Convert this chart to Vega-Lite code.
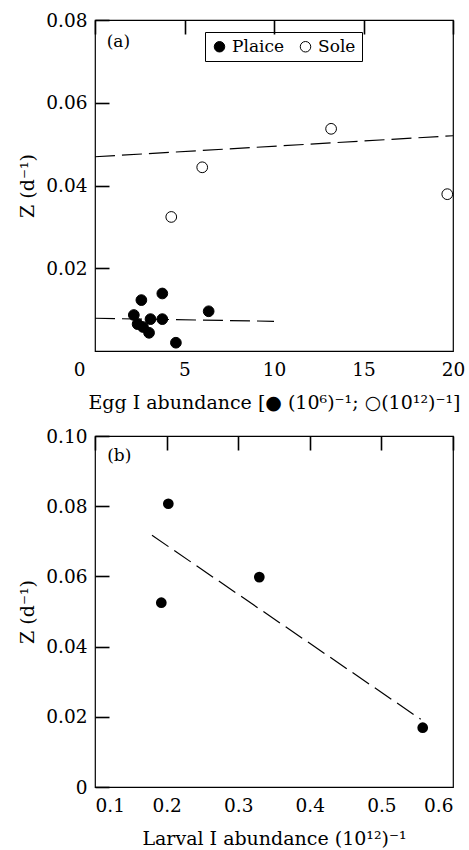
{
  "$schema": "https://vega.github.io/schema/vega-lite/v6.json",
  "padding": {"left": 18, "top": 10, "right": 5, "bottom": 2},
  "spacing": 12,
  "config": {
    "font": "DejaVu Serif",
    "view": {"stroke": "black", "strokeWidth": 1.2},
    "axis": {
      "domain": false, "ticks": false,
      "grid": true, "gridColor": "black", "gridOpacity": 1, "gridWidth": 1.6, "gridDash": [14, 1000],
      "labelFont": "DejaVu Serif", "labelFontSize": 18.5, "labelColor": "black",
      "titleFont": "DejaVu Serif", "titleFontSize": 19, "titleFontWeight": "normal", "titleColor": "black"
    },
    "axisX": {"labelPadding": 9, "titlePadding": 15},
    "axisY": {"labelPadding": 8, "titlePadding": 8}
  },
  "datasets": {
    "eggPoints": [
      {"species": "Plaice", "x": 2.17, "y": 0.0087},
      {"species": "Plaice", "x": 2.59, "y": 0.0123},
      {"species": "Plaice", "x": 3.76, "y": 0.0139},
      {"species": "Plaice", "x": 2.38, "y": 0.0065},
      {"species": "Plaice", "x": 2.68, "y": 0.0058},
      {"species": "Plaice", "x": 3.1, "y": 0.0077},
      {"species": "Plaice", "x": 3.02, "y": 0.0044},
      {"species": "Plaice", "x": 3.76, "y": 0.0077},
      {"species": "Plaice", "x": 6.35, "y": 0.0096},
      {"species": "Plaice", "x": 4.52, "y": 0.002},
      {"species": "Sole", "x": 4.26, "y": 0.0324},
      {"species": "Sole", "x": 5.99, "y": 0.0444},
      {"species": "Sole", "x": 13.19, "y": 0.0537},
      {"species": "Sole", "x": 19.68, "y": 0.0379}
    ],
    "eggLines": [
      {"series": "Sole", "x": 0, "y": 0.04695},
      {"series": "Sole", "x": 20, "y": 0.05203},
      {"series": "Plaice", "x": 0, "y": 0.00791},
      {"series": "Plaice", "x": 10, "y": 0.00718}
    ],
    "larvalPoints": [
      {"x": 0.2024, "y": 0.0807},
      {"x": 0.1926, "y": 0.0525},
      {"x": 0.3295, "y": 0.0598},
      {"x": 0.5577, "y": 0.0169}
    ],
    "larvalLine": [
      {"x": 0.1796, "y": 0.0717},
      {"x": 0.5549, "y": 0.0193}
    ],
    "labelA": [{"label": "(a)", "x": 0.65, "y": 0.0748}],
    "labelB": [{"label": "(b)", "x": 0.117, "y": 0.0942}]
  },
  "vconcat": [
    {
      "width": 358,
      "height": 331,
      "layer": [
        {
          "data": {"name": "eggLines"},
          "mark": {"type": "line", "color": "black", "strokeWidth": 1.2, "strokeDash": [20, 7]},
          "encoding": {
            "x": {"field": "x", "type": "quantitative", "scale": {"domain": [0, 20], "nice": false},
              "axis": {"values": [0, 5, 10, 15, 20], "title": "Egg I abundance [● (10⁶)⁻¹; ○(10¹²)⁻¹]",
                "labelAlign": {"condition": {"test": "datum.value === 0", "value": "right"}, "value": "center"},
                "labelOffset": {"condition": {"test": "datum.value === 0", "value": -10}, "value": 0}}},
            "y": {"field": "y", "type": "quantitative", "scale": {"domain": [0, 0.08], "nice": false},
              "axis": {"values": [0.02, 0.04, 0.06, 0.08], "format": ".2f", "title": "Z (d⁻¹)"}},
            "detail": {"field": "series"}
          }
        },
        {
          "data": {"name": "eggPoints"},
          "mark": {"type": "circle", "size": 115, "stroke": "black", "strokeWidth": 1, "opacity": 1},
          "encoding": {
            "x": {"field": "x", "type": "quantitative"},
            "y": {"field": "y", "type": "quantitative"},
            "fill": {"field": "species", "type": "nominal",
              "scale": {"domain": ["Plaice", "Sole"], "range": ["black", "white"]},
              "legend": {"title": null, "orient": "none", "legendX": 110, "legendY": 12, "direction": "horizontal",
                "strokeColor": "black", "padding": 6, "symbolType": "circle", "symbolSize": 110,
                "symbolStrokeColor": "black", "symbolStrokeWidth": 1, "symbolOpacity": 1,
                "labelFont": "DejaVu Serif", "labelFontSize": 17, "labelColor": "black", "columnPadding": 12}}
          }
        },
        {
          "data": {"name": "labelA"},
          "mark": {"type": "text", "align": "left", "baseline": "middle", "fontSize": 17, "font": "DejaVu Serif", "color": "black"},
          "encoding": {
            "x": {"field": "x", "type": "quantitative"},
            "y": {"field": "y", "type": "quantitative"},
            "text": {"field": "label"}
          }
        }
      ]
    },
    {
      "width": 358,
      "height": 351,
      "layer": [
        {
          "data": {"name": "larvalLine"},
          "mark": {"type": "line", "color": "black", "strokeWidth": 1.2, "strokeDash": [20, 7]},
          "encoding": {
            "x": {"field": "x", "type": "quantitative", "scale": {"domain": [0.1, 0.6], "nice": false},
              "axis": {"values": [0.1, 0.2, 0.3, 0.4, 0.5, 0.6], "format": ".1f", "title": "Larval I abundance (10¹²)⁻¹"}},
            "y": {"field": "y", "type": "quantitative", "scale": {"domain": [0, 0.1], "nice": false},
              "axis": {"values": [0, 0.02, 0.04, 0.06, 0.08, 0.1], "labelExpr": "datum.value == 0 ? '0' : format(datum.value, '.2f')", "title": "Z (d⁻¹)"}}
          }
        },
        {
          "data": {"name": "larvalPoints"},
          "mark": {"type": "circle", "size": 115, "color": "black", "opacity": 1},
          "encoding": {
            "x": {"field": "x", "type": "quantitative"},
            "y": {"field": "y", "type": "quantitative"}
          }
        },
        {
          "data": {"name": "labelB"},
          "mark": {"type": "text", "align": "left", "baseline": "middle", "fontSize": 17, "font": "DejaVu Serif", "color": "black"},
          "encoding": {
            "x": {"field": "x", "type": "quantitative"},
            "y": {"field": "y", "type": "quantitative"},
            "text": {"field": "label"}
          }
        }
      ]
    }
  ]
}
